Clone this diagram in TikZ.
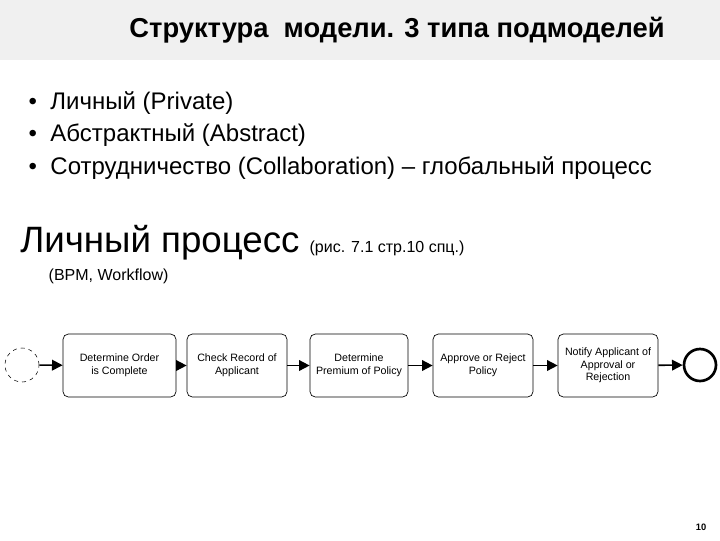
\documentclass[tikz,border=0pt]{standalone}
\usepackage{fontspec}
\setmainfont{Liberation Sans}
\usetikzlibrary{arrows.meta}
\begin{document}
\begin{tikzpicture}[x=0.75pt,y=-0.75pt,
  task/.style={draw,rounded corners=4pt,line width=0.5pt,align=center,font=\fontsize{8}{9.5}\selectfont,inner sep=0pt},
  flow/.style={draw,line width=1.2pt,-{Triangle[length=8pt,width=8pt]}},
  bul/.style={anchor=west,font=\fontsize{18}{21}\selectfont}]
\useasboundingbox (0,0) rectangle (720,540);
\fill[gray!12] (0,0) rectangle (720,60);
\node[font=\bfseries\fontsize{20.5}{24}\selectfont] (title) at (397,30) {Структура\ \ модели. 3 типа подмоделей};
\node[bul] (b1) at (24,103) {•\ \ Личный (Private)};
\node[bul] (b2) at (24,135) {•\ \ Абстрактный (Abstract)};
\node[bul] (b3) at (24,168) {•\ \ Сотрудничество (Collaboration) – глобальный процесс};
\node[anchor=base west,inner sep=0pt] (lp) at (20,252) {\fontsize{27.5}{32}\selectfont Личный процесс \fontsize{12}{14}\selectfont(рис. 7.1 стр.10 спц.)};
\node[anchor=west,font=\fontsize{12}{14}\selectfont] (bpm) at (44,276) {(BPM, Workflow)};
\node[draw,dashed,circle,minimum size=34pt*0.75,inner sep=0pt,line width=0.4pt] (s) at (22,365) {};
\node[task,minimum width=113pt*0.75,minimum height=63pt*0.75] (t1) at (119.5,365.5) {Determine Order\\is Complete};
\node[task,minimum width=100pt*0.75,minimum height=63pt*0.75] (t2) at (237,365.5) {Check Record of\\Applicant};
\node[task,minimum width=98pt*0.75,minimum height=63pt*0.75] (t3) at (359,365.5) {Determine\\Premium of Policy};
\node[task,minimum width=100pt*0.75,minimum height=63pt*0.75] (t4) at (483,365.5) {Approve or Reject\\Policy};
\node[task,minimum width=100pt*0.75,minimum height=63pt*0.75] (t5) at (608,365.5) {Notify Applicant of\\Approval or\\Rejection};
\node[draw,circle,minimum size=32pt*0.75,inner sep=0pt,line width=2pt] (e) at (700,365) {};
\draw[flow] (s) -- (t1);
\draw[flow] (t1) -- (t2);
\draw[flow] (t2) -- (t3);
\draw[flow] (t3) -- (t4);
\draw[flow] (t4) -- (t5);
\draw[flow] (t5) -- (e);
\node[font=\bfseries\fontsize{7}{8}\selectfont] (pg) at (701,527) {10};
\end{tikzpicture}
\end{document}
